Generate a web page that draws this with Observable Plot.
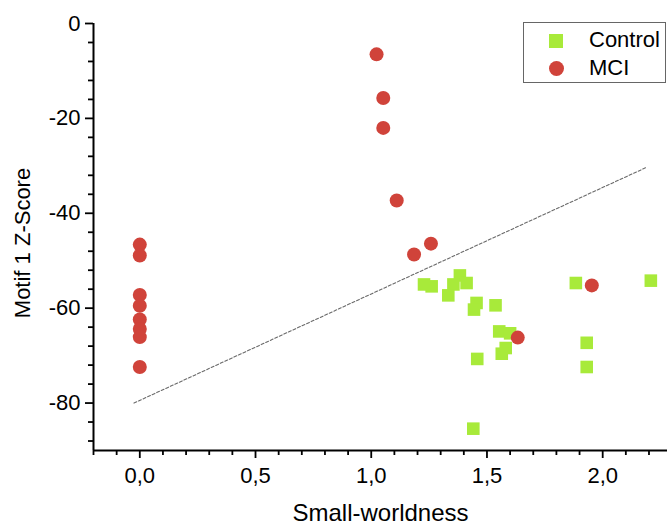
<!DOCTYPE html>
<html>
<head>
<meta charset="utf-8">
<script src="https://cdn.jsdelivr.net/npm/d3@7"></script>
<script src="https://cdn.jsdelivr.net/npm/@observablehq/plot@0.6"></script>
<style>
  body { margin: 0; background: #fff; }
  #wrap { position: relative; width: 667px; height: 525px; font-family: "Liberation Sans", Arial, sans-serif; }
  #legend { position: absolute; left: 523px; top: 22px; width: 143px; height: 61px; border: 1px solid #666; box-sizing: border-box; background: #fff; }
  .lg-text { position: absolute; font-size: 22px; line-height: 22px; color: #000; white-space: nowrap; }
  .lg-sq { position: absolute; width: 14px; height: 14px; }
  .lg-ci { position: absolute; width: 15px; height: 15px; border-radius: 50%; }
</style>
</head>
<body>
<div id="wrap"></div>
<script>
// Data
const controlX = [1.228, 1.261, 1.383, 1.355, 1.412, 1.333, 1.455, 1.444, 1.537, 1.553, 1.600, 1.581, 1.564, 1.458, 1.884, 2.208, 1.931, 1.931, 1.441];
const controlY = [-55.0, -55.4, -53.1, -55.0, -54.7, -57.3, -58.9, -60.3, -59.4, -64.9, -65.3, -68.4, -69.6, -70.7, -54.7, -54.2, -67.3, -72.4, -85.4];
const mciX = [0, 0, 0, 0, 0, 0, 0, 0, 1.023, 1.052, 1.052, 1.110, 1.258, 1.185, 1.953, 1.633];
const mciY = [-46.6, -48.9, -57.2, -59.5, -62.4, -64.4, -66.1, -72.4, -6.5, -15.7, -22.0, -37.3, -46.4, -48.7, -55.2, -66.2];
const fitX = [-0.025, 2.19];
const fitY = [-80.0, -30.3];
const xMajor = [0, 0.5, 1.0, 1.5, 2.0];
const xMinor = [-0.2, -0.1, 0.1, 0.2, 0.3, 0.4, 0.6, 0.7, 0.8, 0.9, 1.1, 1.2, 1.3, 1.4, 1.6, 1.7, 1.8, 1.9, 2.1, 2.2];
const yMajor = [0, -20, -40, -60, -80];
const yMinor = [-4, -8, -12, -16, -24, -28, -32, -36, -44, -48, -52, -56, -64, -68, -72, -76, -84, -88];
const seriesNames = ["Control", "MCI"];
const seriesColors = ["#A8EA3A", "#D0433A"];
const xLabel = "Small-worldness";
const yLabel = "Motif 1 Z-Score";

const control = controlX.map((x, i) => ({x, y: controlY[i]}));
const mci = mciX.map((x, i) => ({x, y: mciY[i]}));
const fit = fitX.map((x, i) => ({x, y: fitY[i]}));
const fmt = d => d.toFixed(1).replace(".", ",");
const FONT = "Liberation Sans, Arial, sans-serif";

const chart = Plot.plot({
  width: 667,
  height: 525,
  marginLeft: 93,
  marginRight: 0,
  marginTop: 23,
  marginBottom: 75,
  style: {fontFamily: FONT, fontSize: "22px", color: "#000", background: "#fff"},
  x: {domain: [-0.2, 2.28]},
  y: {domain: [-90, 0]},
  marks: [
    Plot.line(fit, {x: "x", y: "y", stroke: "#6a6a6a", strokeWidth: 1.1, strokeDasharray: "3,2"}),
    Plot.dot(control, {x: "x", y: "y", symbol: "square", r: 7.1, fill: seriesColors[0], stroke: "none"}),
    Plot.dot(mci, {x: "x", y: "y", symbol: "circle", r: 7, fill: seriesColors[1], stroke: "none"}),
    Plot.axisX(xMinor, {tickSize: 5, tickFormat: () => "", strokeWidth: 1.8, label: null}),
    Plot.axisX(xMajor, {tickSize: 8, tickPadding: 9, tickFormat: fmt, strokeWidth: 1.8, fontSize: 22, label: null}),
    Plot.axisY(yMinor, {tickSize: 5, tickFormat: () => "", strokeWidth: 1.8, label: null}),
    Plot.axisY(yMajor, {tickSize: 8, tickPadding: 5, tickFormat: d => String(d), strokeWidth: 1.8, fontSize: 22, label: null}),
    Plot.ruleX([-0.2], {stroke: "#000", strokeWidth: 2}),
    Plot.ruleY([-90], {stroke: "#000", strokeWidth: 2}),
    Plot.text([xLabel], {frameAnchor: "bottom", dy: 70, fontSize: 24, fill: "#000", textAnchor: "middle"}),
    Plot.text([yLabel], {frameAnchor: "left", dx: -71, dy: 6, rotate: -90, fontSize: 22, fill: "#000", textAnchor: "middle"})
  ]
});

const wrap = document.getElementById("wrap");
wrap.appendChild(chart);

// Legend overlay
const legend = document.createElement("div");
legend.id = "legend";
const items = [
  {cls: "lg-sq", left: 25, top: 11, text: seriesNames[0], ttop: 6, color: seriesColors[0]},
  {cls: "lg-ci", left: 24.5, top: 38, text: seriesNames[1], ttop: 34, color: seriesColors[1]}
];
for (const it of items) {
  const m = document.createElement("div");
  m.className = it.cls;
  m.style.left = it.left + "px";
  m.style.top = it.top + "px";
  m.style.background = it.color;
  legend.appendChild(m);
  const t = document.createElement("div");
  t.className = "lg-text";
  t.style.left = "65px";
  t.style.top = it.ttop + "px";
  t.textContent = it.text;
  legend.appendChild(t);
}
wrap.appendChild(legend);
</script>
</body>
</html>
